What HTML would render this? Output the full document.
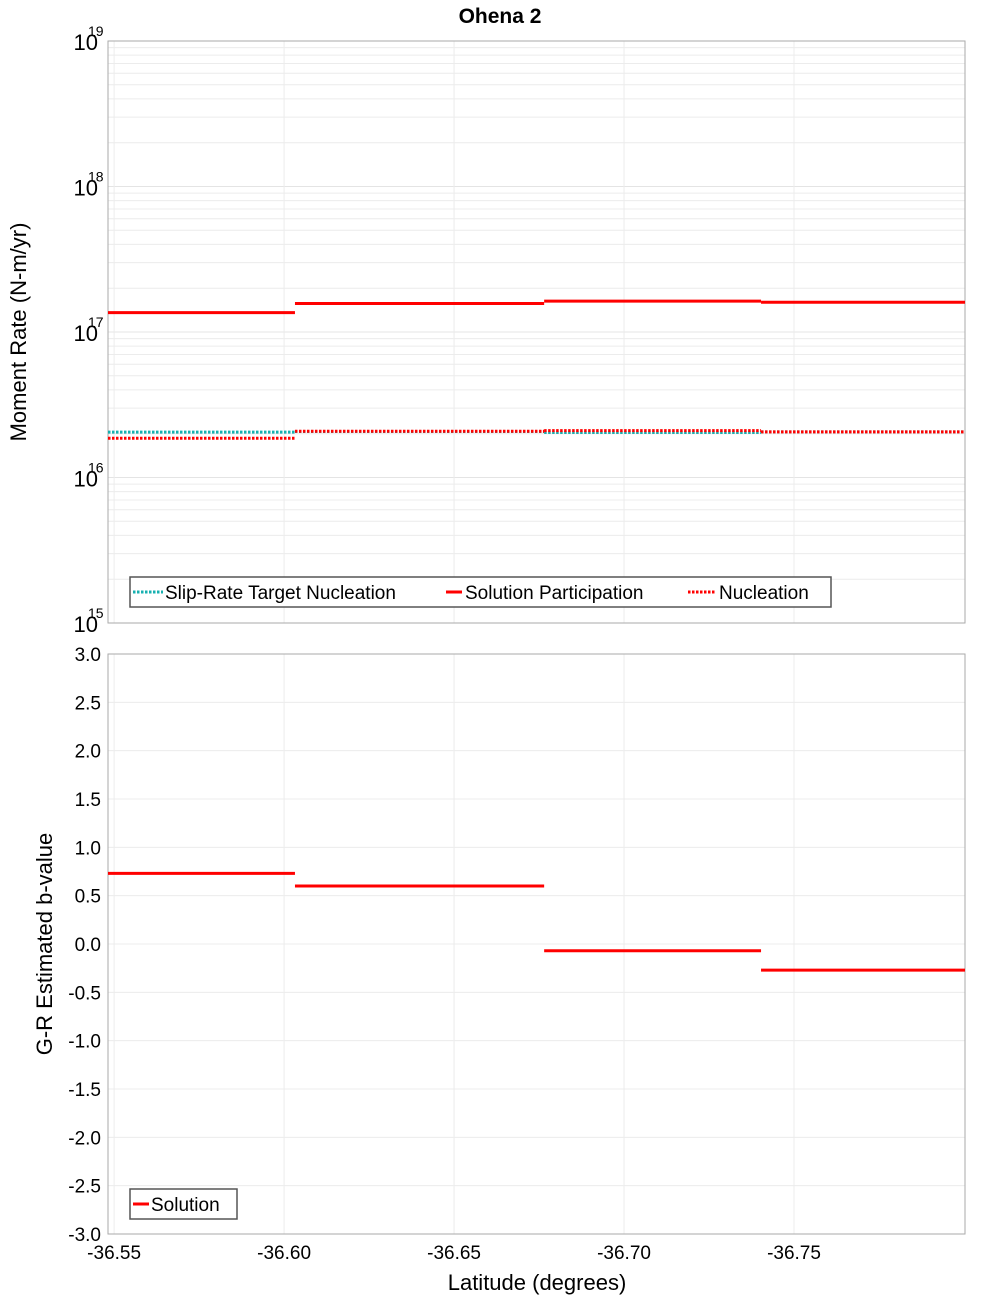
<!DOCTYPE html>
<html><head><meta charset="utf-8"><style>
body{margin:0;background:#fff}
svg text{font-family:"Liberation Sans","DejaVu Sans",sans-serif}
</style></head><body>
<svg id="chart" width="1000" height="1300" xmlns="http://www.w3.org/2000/svg">
<text x="500" y="23" text-anchor="middle" font-size="21" font-weight="bold">Ohena 2</text>
<g id="topg"></g><g id="botg"></g>
</svg>
<script>
const segEdges = [-36.5482, -36.6032, -36.6765, -36.7403, -36.8003];
const solutionParticipation = [1.36e17, 1.57e17, 1.63e17, 1.60e17];
const targetNucleation = [2.05e16, 2.07e16, 2.04e16, 2.06e16];
const nucleation = [1.86e16, 2.08e16, 2.1e16, 2.06e16];
const bValues = [0.73, 0.60, -0.07, -0.27];
const xTicks = [-36.55, -36.60, -36.65, -36.70, -36.75];
const xTickLabels = ["-36.55", "-36.60", "-36.65", "-36.70", "-36.75"];
const logDecades = [15, 16, 17, 18, 19];
const bTicks = [3, 2.5, 2, 1.5, 1, 0.5, 0, -0.5, -1, -1.5, -2, -2.5, -3];

const NS = "http://www.w3.org/2000/svg";
const L = 108, R = 965;
const X0 = -36.5482, X1 = -36.8003;
const xs = v => L + (v - X0) / (X1 - X0) * (R - L);
const T1 = 41, B1 = 623;
const yLog = v => B1 - (Math.log10(v) - 15) / 4 * (B1 - T1);
const T2 = 654, B2 = 1234;
const yB = v => B2 - (v + 3) / 6 * (B2 - T2);

function mk(parent, tag, attrs, text) {
  const e = document.createElementNS(NS, tag);
  for (const k in attrs) e.setAttribute(k, attrs[k]);
  if (text !== undefined) e.textContent = text;
  parent.appendChild(e);
  return e;
}
const topG = document.getElementById('topg');
const botG = document.getElementById('botg');

for (let d = 15; d < 19; d++) {
  for (let m = 2; m <= 9; m++) {
    const y = yLog(m * Math.pow(10, d));
    const g = mk(topG, 'line', {x1: L, x2: R, y1: y, y2: y, stroke: '#ececec', 'stroke-width': 1});
    
    
  }
}
logDecades.forEach(d => {
  const y = yLog(Math.pow(10, d));
  const g = mk(topG, 'line', {x1: L, x2: R, y1: y, y2: y, stroke: '#e4e4e4', 'stroke-width': 1});
  
  
  const t = mk(topG, 'text', {x: 98, y: y + 9, 'text-anchor': 'end', 'font-size': 22}, '10');
  
  
  const s = mk(topG, 'text', {x: 88, y: y - 5, 'font-size': 14}, String(d));
  
  
});
xTicks.forEach(v => {
  [[T1, B1, topG], [T2, B2, botG]].forEach(([a, b, p]) => {
    const g = mk(p, 'line', {x1: xs(v), x2: xs(v), y1: a, y2: b, stroke: '#ececec', 'stroke-width': 1});
    
    
  });
});
const f1 = mk(topG, 'rect', {x: L, y: T1, width: R - L, height: B1 - T1, fill: 'none', stroke: '#aaa'});


const yt1 = mk(topG, 'text', {x: 26, y: 332, 'text-anchor': 'middle', 'font-size': 22, transform: 'rotate(-90 26 332)'}, 'Moment Rate (N-m/yr)');



function segs(parent, vals, yf, color, dash, name) {
  vals.forEach((v, i) => {
    const a = {x1: xs(segEdges[i]), x2: xs(segEdges[i + 1]), y1: yf(v), y2: yf(v), stroke: color, 'stroke-width': 3};
    if (dash) a['stroke-dasharray'] = '2.5,1.5';
    const l = mk(parent, 'line', a);
    
    
  });
}
segs(topG, targetNucleation, yLog, '#17b0b0', true, 'target-nucleation-segment');
segs(topG, nucleation, yLog, '#ff0000', true, 'nucleation-segment');
segs(topG, solutionParticipation, yLog, '#ff0000', false, 'solution-participation-segment');

const lg = mk(topG, 'g', {});


mk(lg, 'rect', {x: 130, y: 577, width: 701, height: 30, fill: '#fff', stroke: '#555', 'stroke-width': 1.5});
const items = [[133, 163, '#17b0b0', true, 'Slip-Rate Target Nucleation', 165], [446, 462, '#ff0000', false, 'Solution Participation', 465], [688, 716, '#ff0000', true, 'Nucleation', 719]];
items.forEach(([a, b, c, d, t, tx]) => {
  const at = {x1: a, x2: b, y1: 592, y2: 592, stroke: c, 'stroke-width': 3};
  if (d) at['stroke-dasharray'] = '2.5,1.5';
  const l = mk(lg, 'line', at);
  
  
  const tt = mk(lg, 'text', {x: tx, y: 599, 'font-size': 19}, t);
  
  
});

bTicks.forEach(v => {
  const g = mk(botG, 'line', {x1: L, x2: R, y1: yB(v), y2: yB(v), stroke: '#ececec', 'stroke-width': 1});
  
  
  const t = mk(botG, 'text', {x: 101, y: yB(v) + 7, 'text-anchor': 'end', 'font-size': 19}, v.toFixed(1));
  
  
});
const f2 = mk(botG, 'rect', {x: L, y: T2, width: R - L, height: B2 - T2, fill: 'none', stroke: '#aaa'});


segs(botG, bValues, yB, '#ff0000', false, 'b-value-segment');
xTicks.forEach((v, i) => {
  const t = mk(botG, 'text', {x: xs(v), y: 1259, 'text-anchor': 'middle', 'font-size': 19}, xTickLabels[i]);
  
  
});
const xt = mk(botG, 'text', {x: 537, y: 1290, 'text-anchor': 'middle', 'font-size': 22}, 'Latitude (degrees)');


const yt2 = mk(botG, 'text', {x: 52, y: 944, 'text-anchor': 'middle', 'font-size': 22, transform: 'rotate(-90 52 944)'}, 'G-R Estimated b-value');


const lg2 = mk(botG, 'g', {});


mk(lg2, 'rect', {x: 130, y: 1189, width: 107, height: 30, fill: '#fff', stroke: '#555', 'stroke-width': 1.5});
const sl = mk(lg2, 'line', {x1: 133, x2: 149, y1: 1204, y2: 1204, stroke: '#ff0000', 'stroke-width': 3});


const st = mk(lg2, 'text', {x: 151, y: 1211, 'font-size': 19}, 'Solution');


</script>
</body></html>
